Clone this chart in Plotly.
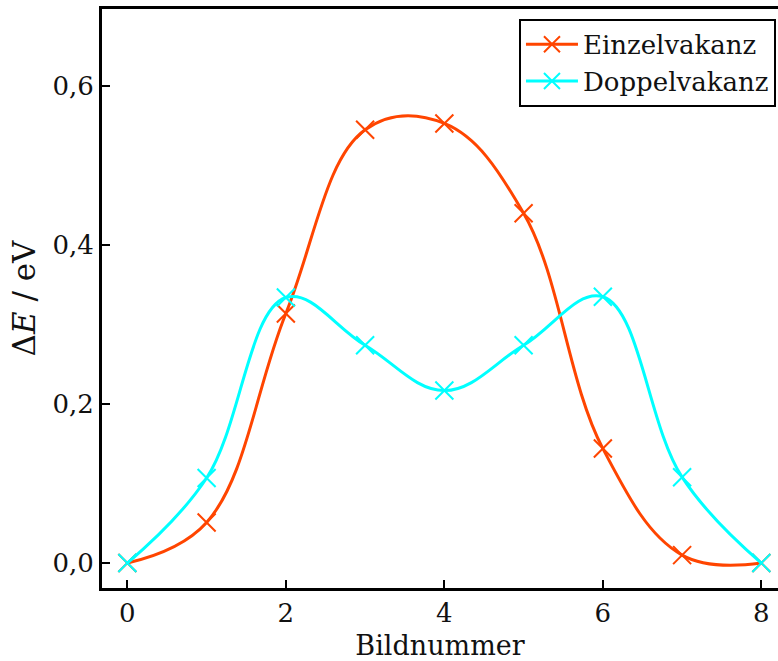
import plotly.graph_objects as go

# NEB images along the migration path
bildnummer = [0, 1, 2, 3, 4, 5, 6, 7, 8]
einzelvakanz = [0.0, 0.051, 0.314, 0.545, 0.553, 0.440, 0.144, 0.010, 0.0]
doppelvakanz = [0.0, 0.107, 0.334, 0.274, 0.217, 0.274, 0.335, 0.108, 0.0]

x_ticks = [0, 2, 4, 6, 8]
y_ticks = [0.0, 0.2, 0.4, 0.6]
y_ticklabels = ["0,0", "0,2", "0,4", "0,6"]

FONT = "DejaVu Serif"
ORANGE = "#FF4500"
CYAN = "#00FFFF"

fig = go.Figure()
for name, vals, col in [("Einzelvakanz", einzelvakanz, ORANGE),
                        ("Doppelvakanz", doppelvakanz, CYAN)]:
    fig.add_trace(go.Scatter(
        x=bildnummer, y=vals, name=name,
        mode="lines+markers",
        line=dict(color=col, width=3, shape="spline", smoothing=1.1),
        marker=dict(symbol="x-thin", size=18, line=dict(color=col, width=2)),
    ))

fig.update_layout(
    width=778, height=661,
    margin=dict(l=102, r=0, t=9, b=73),
    paper_bgcolor="white", plot_bgcolor="white",
    font=dict(family=FONT, size=26, color="#111111"),
    showlegend=True,
    legend=dict(
        x=0.997, y=0.983, xanchor="right", yanchor="top",
        bgcolor="white", bordercolor="black", borderwidth=2,
        font=dict(family=FONT, size=26),
        tracegroupgap=0, itemwidth=52,
    ),
)
fig.update_xaxes(
    range=[-0.32, 8.21],
    tickvals=x_ticks, ticktext=[str(v) for v in x_ticks],
    tickfont=dict(family=FONT, size=26),
    ticks="inside", ticklen=8, tickwidth=2, tickcolor="black",
    showline=True, linecolor="black", linewidth=3, mirror=True,
    showgrid=False, zeroline=False,
    title=dict(text="Bildnummer", standoff=12, font=dict(family=FONT, size=27)),
)
fig.update_yaxes(
    range=[-0.0314, 0.697],
    tickvals=y_ticks, ticktext=y_ticklabels,
    tickfont=dict(family=FONT, size=26),
    ticks="inside", ticklen=8, tickwidth=2, tickcolor="black",
    showline=True, linecolor="black", linewidth=3,
    showgrid=False, zeroline=False,
    title=dict(text="Δ<i>E</i> / eV", standoff=8, font=dict(family=FONT, size=31)),
)

fig.write_html("out.html")
